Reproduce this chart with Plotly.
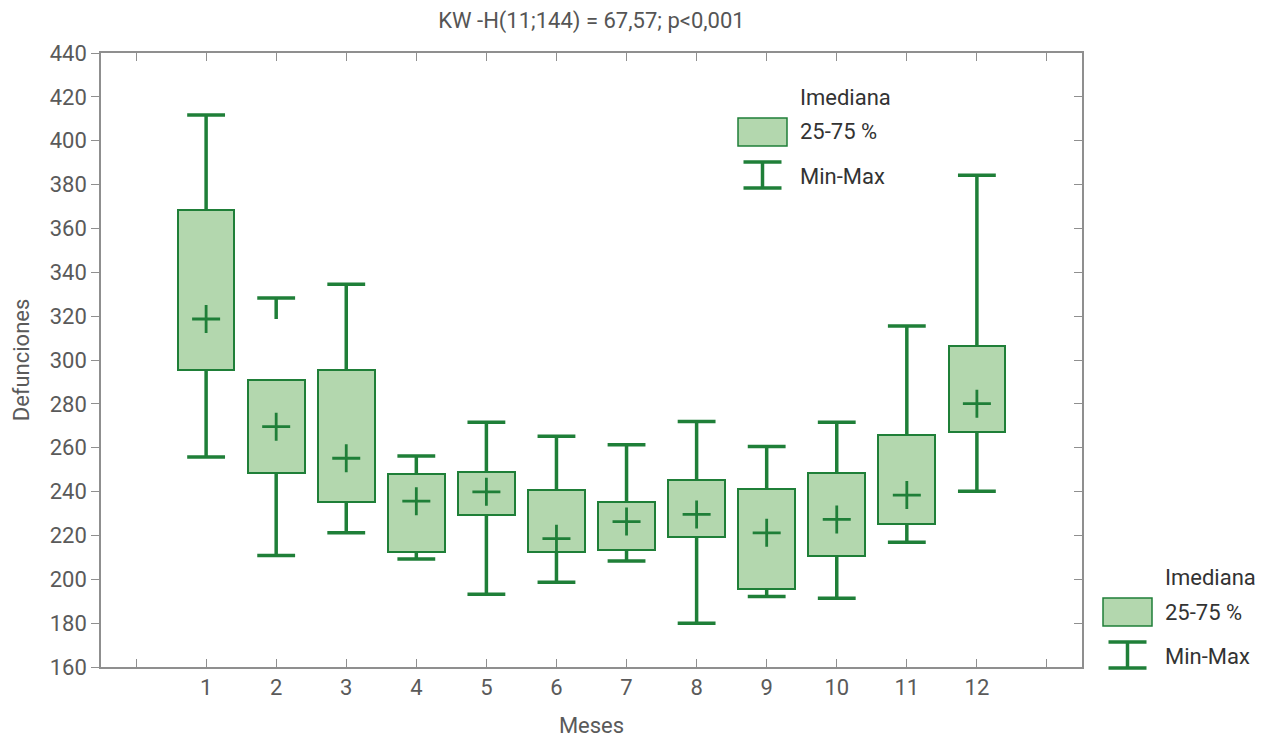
import plotly.graph_objects as go

# ---- data ----
months = [1, 2, 3, 4, 5, 6, 7, 8, 9, 10, 11, 12]
month_labels = ["1", "2", "3", "4", "5", "6", "7", "8", "9", "10", "11", "12"]
q1 = [295.4, 248.3, 235.1, 212.3, 229.5, 212.4, 213.2, 219.1, 195.7, 210.5, 225.4, 267.3]
q3 = [368.4, 291.0, 295.6, 248.0, 248.8, 240.8, 235.1, 245.4, 241.2, 248.3, 265.8, 306.5]
median = [318.7, 269.6, 255.2, 235.6, 239.9, 218.5, 226.3, 229.6, 221.2, 227.3, 238.4, 280.1]
vmin = [255.8, 210.9, 221.2, 209.2, 193.2, 198.6, 208.3, 179.9, 192.2, 191.3, 216.9, 240.1]
vmax = [411.7, 328.3, 334.6, 256.2, 271.6, 265.2, 261.4, 272.0, 260.5, 271.6, 315.5, 384.3]
# lower end of the upper whisker stem as drawn (month 2 stem is short in the picture)
upper_stem_low = [368.4, 318.7, 295.6, 248.0, 248.8, 240.8, 235.1, 245.4, 241.2, 248.3, 265.8, 306.5]

x_ticks = list(range(0, 14))
x_ticktext = [""] + month_labels + [""]
y_ticks = list(range(160, 441, 20))

title_text = "KW -H(11;144) = 67,57; p<0,001"
x_title = "Meses"
y_title = "Defunciones"
legend_labels = ["Imediana", "25-75 %", "Min-Max"]

# ---- style ----
FILL = "#b3d7ae"
LINE = "#1f7f38"
AXIS = "#8f8f8f"
TICKFONT = "#5a5a5a"
FONT = "Roboto"
FS = 22
BOX_W = 0.81
CAP_HALF = 0.27

# ---- page geometry (pixels, page coordinates) ----
W, H = 1271, 741
OFF = 8                      # browser body margin
L, R, T, B = 101, 1082, 53, 667


def px(x):
    return (x - L) / (R - L)


def py(y):
    return (B - y) / (B - T)


fig = go.Figure()

# boxes (25-75 %)
fig.add_trace(go.Bar(
    x=months, y=[b - a for a, b in zip(q1, q3)], base=q1, width=BOX_W,
    marker=dict(color=FILL, line=dict(color=LINE, width=2)),
    showlegend=False, hoverinfo="skip"))

# whisker stems
sx, sy = [], []
for m, a, lo, hi, top in zip(months, q1, vmin, upper_stem_low, vmax):
    sx += [m, m, None, m, m, None]
    sy += [a, lo, None, hi, top, None]
fig.add_trace(go.Scatter(x=sx, y=sy, mode="lines", line=dict(color=LINE, width=3.5),
                         showlegend=False, hoverinfo="skip"))

# whisker caps
cx, cy = [], []
for m, lo, top in zip(months, vmin, vmax):
    cx += [m - CAP_HALF, m + CAP_HALF, None, m - CAP_HALF, m + CAP_HALF, None]
    cy += [lo, lo, None, top, top, None]
fig.add_trace(go.Scatter(x=cx, y=cy, mode="lines", line=dict(color=LINE, width=3.5),
                         showlegend=False, hoverinfo="skip"))

# medians
fig.add_trace(go.Scatter(x=months, y=median, mode="markers",
                         marker=dict(symbol="cross-thin", size=20,
                                     line=dict(color=LINE, width=2.8)),
                         showlegend=False, hoverinfo="skip"))

# right-side axis (ticks pointing inward)
fig.add_trace(go.Scatter(x=[None], y=[None], yaxis="y2", showlegend=False))

# ---- legends drawn by hand ----
shapes = []
annotations = []


def add_legend(x0, y0):
    # x0: left of symbol, y0: center of "Imediana" row (page px)
    tx = x0 + 60
    for lab, dy in zip(legend_labels, (0, 35, 79)):
        annotations.append(dict(x=px(tx), y=py(y0 + dy), xref="paper", yref="paper",
                                text=lab, showarrow=False, xanchor="left",
                                yanchor="middle",
                                font=dict(family=FONT, size=FS, color="#333333")))
    shapes.append(dict(type="rect", xref="paper", yref="paper",
                       x0=px(x0), x1=px(x0 + 49), y0=py(y0 + 21), y1=py(y0 + 49),
                       fillcolor=FILL, line=dict(color=LINE, width=1.5)))
    cxm = x0 + 24.5
    for yy in (y0 + 65, y0 + 91):
        shapes.append(dict(type="line", xref="paper", yref="paper",
                           x0=px(cxm - 19), x1=px(cxm + 19), y0=py(yy), y1=py(yy),
                           line=dict(color=LINE, width=3.5)))
    shapes.append(dict(type="line", xref="paper", yref="paper",
                       x0=px(cxm), x1=px(cxm), y0=py(y0 + 65), y1=py(y0 + 91),
                       line=dict(color=LINE, width=3.5)))


add_legend(738, 97)
add_legend(1103, 577)

fig.update_layout(
    width=W, height=H,
    margin=dict(l=L - OFF, r=W - R + OFF, t=T - OFF, b=H - B + OFF),
    paper_bgcolor="white", plot_bgcolor="white",
    font=dict(family=FONT, size=FS, color=TICKFONT),
    title=dict(text=title_text, x=0.5, xref="paper", y=1 - (20 - OFF) / H, yanchor="middle",
               font=dict(family=FONT, size=22, color="#555555")),
    showlegend=False,
    bargap=0,
    xaxis=dict(range=[-0.5, 13.5], tickmode="array", tickvals=x_ticks, ticktext=x_ticktext,
               ticks="inside", ticklen=8, tickwidth=1.2, tickcolor=AXIS,
               showline=True, linecolor=AXIS, linewidth=1.5, mirror="ticks",
               showgrid=False, zeroline=False,
               tickfont=dict(family=FONT, size=FS, color=TICKFONT),
               title=dict(text=x_title, standoff=18,
                          font=dict(family=FONT, size=FS, color=TICKFONT))),
    yaxis=dict(range=[160, 440], tickmode="array", tickvals=y_ticks,
               ticks="outside", ticklen=8, tickwidth=1.2, tickcolor=AXIS,
               showline=True, linecolor=AXIS, linewidth=1.5, mirror=True,
               showgrid=False, zeroline=False,
               tickfont=dict(family=FONT, size=FS, color=TICKFONT),
               title=dict(text=y_title, standoff=14,
                          font=dict(family=FONT, size=FS, color=TICKFONT))),
    yaxis2=dict(range=[160, 440], overlaying="y", side="right", tickmode="array",
                tickvals=y_ticks, ticks="inside", ticklen=8, tickwidth=1.2, tickcolor=AXIS,
                showticklabels=False, showline=False, showgrid=False, zeroline=False),
    shapes=shapes,
    annotations=annotations,
)

fig.write_html("out.html", config={"displayModeBar": False})
